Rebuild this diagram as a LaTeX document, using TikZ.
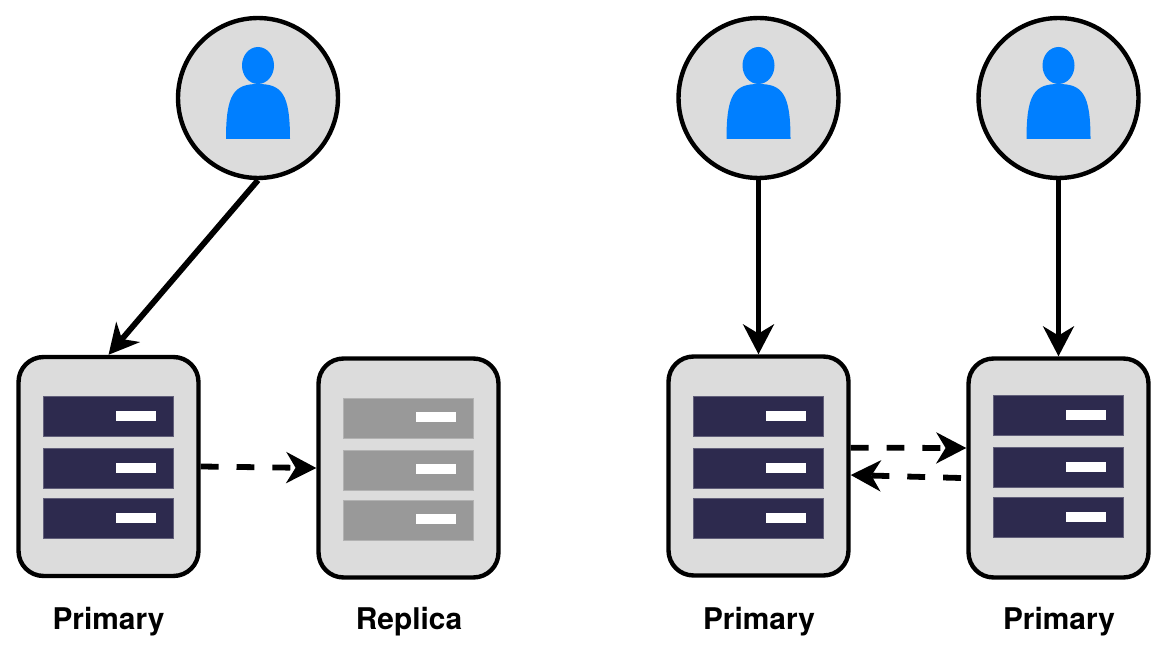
\documentclass[tikz,border=0pt]{standalone}
\usepackage{fontspec}
\setmainfont{TeX Gyre Heros}
\usetikzlibrary{arrows.meta}

\definecolor{boxgray}{HTML}{DCDCDC}
\definecolor{barnavy}{HTML}{2D2A4E}
\definecolor{bargray}{HTML}{999999}
\definecolor{userblue}{HTML}{007FFF}

\tikzset{
  serverbox/.style={draw=black, fill=boxgray, line width=2.5pt, rounded corners=0.5cm,
    minimum width=3.6cm, minimum height=4.38cm, inner sep=0pt},
  userdisc/.style={draw=black, fill=boxgray, line width=2.5pt, circle,
    minimum size=3.2cm, inner sep=0pt},
  link/.style={line width=3.3pt, -{Stealth[length=17pt, width=17.5pt, inset=5.2pt]}},
  synclink/.style={link, dash pattern=on 10.2pt off 10.2pt},
  tag/.style={font=\fontsize{17}{20}\selectfont\bfseries, anchor=base}
}

% one server box with its three bars
\newcommand{\server}[5]{
  \node[serverbox] (#1) at (#2,#3) {};
  \begin{scope}[shift={(#2,#4)}]
    \filldraw[fill=#5, draw=#5!75!white, line width=0.4pt] (-65,-70) rectangle (65,-30);
    \filldraw[fill=#5, draw=#5!75!white, line width=0.4pt] (-65,-18) rectangle (65,22);
    \filldraw[fill=#5, draw=#5!75!white, line width=0.4pt] (-65,32) rectangle (65,72);
    \fill[white] (7,-56) rectangle (47,-46);
    \fill[white] (7,-4) rectangle (47,6);
    \fill[white] (7,46) rectangle (47,56);
  \end{scope}
}

% one user disc with its figure
\newcommand{\user}[3]{
  \node[userdisc] (#1) at (#2,#3) {};
  \begin{scope}[shift={(#2,#3)}]
    \fill[userblue] (0,-32.5) ellipse (16 and 18.5);
    \fill[userblue] (-32,41) .. controls (-32,-4) and (-24,-14) .. (0,-14)
      .. controls (24,-14) and (32,-4) .. (32,41) -- cycle;
  \end{scope}
}

\begin{document}
\begin{tikzpicture}[x=0.02cm, y=-0.02cm]
\useasboundingbox (0,0) rectangle (1166,655);

\user{user1}{258}{98}
\user{user2}{758.5}{98}
\user{user3}{1058.5}{98}

\server{srv1}{108.5}{466.5}{466.5}{barnavy}
\server{srv2}{408.5}{468}{468}{bargray}
\server{srv3}{758.5}{466}{466.5}{barnavy}
\server{srv4}{1058.5}{468}{465.5}{barnavy}

\node[tag] (tag1) at (108.5,629) {Primary};
\node[tag] (tag2) at (409,629) {Replica};
\node[tag] (tag3) at (759,629) {Primary};
\node[tag] (tag4) at (1059,629) {Primary};

\draw[link] (user1.south) -- (srv1.north);
\draw[link] (user2.south) -- (srv3.north);
\draw[link] (user3.south) -- (srv4.north);

\draw[synclink] (srv1.east) -- (srv2.west);
\draw[synclink] ([yshift=0.366cm]srv3.east) -- ([yshift=0.4cm]srv4.west);
\coordinate (backstart) at (961,478);
\draw[synclink] (backstart) -- ([yshift=-0.18cm]srv3.east);
\end{tikzpicture}
\end{document}
